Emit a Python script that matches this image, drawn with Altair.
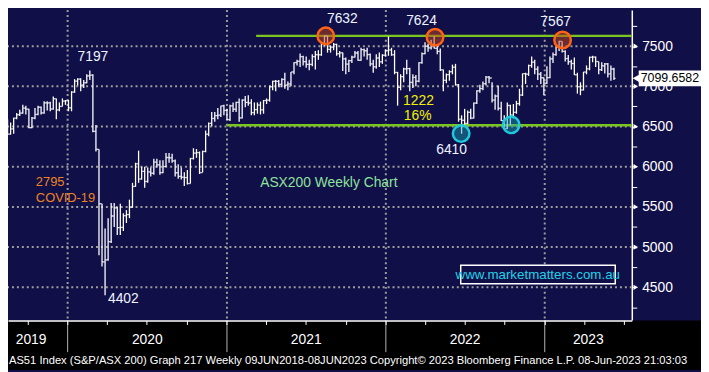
import altair as alt
import pandas as pd

# ---------------- data ----------------
first_date = "2019-08-16"
first_open = 6570
highs = [6590, 6550, 6610, 6670, 6710, 6770, 6760, 6720, 6620, 6730,
         6760, 6750, 6815, 6815, 6810, 6875, 6850, 6800, 6850, 6830,
         6830, 6940, 7090, 7100, 7100, 7080, 7150, 7197, 7150, 6520,
         6217, 5540, 5230, 5360, 5550, 5550, 5500, 5540, 5420, 5460,
         5590, 5800, 6050, 6200, 6000, 6000, 5990, 5990, 6100, 6100,
         6080, 6080, 6170, 6170, 6160, 6090, 6030, 5990, 5930, 5960,
         6110, 6230, 6220, 6190, 6200, 6450, 6550, 6680, 6680, 6730,
         6760, 6770, 6720, 6770, 6800, 6810, 6850, 6840, 6880, 6890,
         6840, 6800, 6800, 6810, 6830, 6850, 7010, 7070, 7080, 7080,
         7100, 7170, 7060, 7180, 7300, 7330, 7410, 7380, 7370, 7330,
         7400, 7440, 7450, 7550, 7632, 7630, 7510, 7540, 7530, 7440,
         7420, 7360, 7330, 7380, 7440, 7440, 7480, 7470, 7480, 7410,
         7330, 7400, 7420, 7400, 7460, 7620, 7480, 7450, 7180, 7150,
         7230, 7330, 7230, 7150, 7140, 7300, 7420, 7550, 7530, 7580,
         7624, 7520, 7470, 7210, 7160, 7200, 7270, 7280, 7030, 6640,
         6720, 6700, 6720, 6800, 6950, 7020, 7060, 7130, 7130, 7050,
         6900, 7010, 6810, 6640, 6800, 6770, 6780, 6820, 6970, 7160,
         7170, 7270, 7370, 7330, 7250, 7180, 7110, 7250, 7370, 7420,
         7500, 7567, 7560, 7450, 7390, 7330, 7360, 7170, 7050, 7180,
         7260, 7370, 7380, 7370, 7310, 7300, 7290, 7290, 7260, 7230]
lows = [6395, 6400, 6410, 6590, 6630, 6660, 6650, 6480, 6480, 6590,
        6640, 6650, 6660, 6700, 6690, 6710, 6590, 6690, 6750, 6770,
        6690, 6690, 6920, 7010, 6940, 6980, 7040, 7080, 6430, 6190,
        4900, 4760, 4402, 4830, 5050, 5250, 5150, 5150, 5200, 5300,
        5360, 5490, 5750, 5800, 5840, 5740, 5800, 5880, 5900, 5990,
        5900, 5920, 6000, 6050, 6050, 5880, 5850, 5840, 5760, 5780,
        5790, 6090, 6110, 5910, 5930, 6180, 6380, 6500, 6560, 6590,
        6620, 6640, 6580, 6570, 6680, 6680, 6560, 6600, 6740, 6760,
        6640, 6640, 6660, 6650, 6660, 6780, 6810, 6950, 6940, 6990,
        6990, 6970, 6950, 7000, 7150, 7260, 7240, 7260, 7230, 7200,
        7250, 7210, 7330, 7380, 7500, 7420, 7420, 7450, 7380, 7360,
        7190, 7150, 7180, 7290, 7360, 7320, 7320, 7370, 7330, 7250,
        7170, 7220, 7240, 7280, 7370, 7380, 7380, 7150, 6760, 6950,
        7050, 7150, 6940, 6980, 7000, 7050, 7280, 7400, 7430, 7460,
        7470, 7400, 7190, 6940, 7040, 7070, 7150, 7010, 6560, 6410,
        6520, 6530, 6590, 6600, 6780, 6920, 6950, 7010, 7040, 6800,
        6710, 6700, 6570, 6460, 6470, 6520, 6600, 6660, 6760, 6880,
        7030, 7130, 7230, 7150, 7080, 7030, 6890, 7030, 7100, 7290,
        7380, 7440, 7420, 7310, 7270, 7210, 7140, 6910, 6890, 6950,
        7150, 7200, 7300, 7240, 7150, 7190, 7160, 7110, 7070, 7080]
closes = [6405, 6471, 6604, 6647, 6667, 6730, 6716, 6486, 6606, 6651,
          6740, 6669, 6794, 6794, 6718, 6846, 6707, 6750, 6816, 6821,
          6733, 6929, 7065, 7090, 7017, 7045, 7130, 7139, 6441, 6217,
          5539, 4816, 4842, 5067, 5387, 5487, 5242, 5245, 5391, 5405,
          5497, 5755, 6036, 5847, 5942, 5817, 5935, 5919, 6058, 6024,
          5928, 6002, 6115, 6111, 6073, 5925, 5880, 5870, 5865, 5791,
          6102, 6170, 6176, 5927, 6190, 6405, 6539, 6601, 6635, 6642,
          6757, 6700, 6587, 6757, 6715, 6800, 6607, 6830, 6800, 6793,
          6673, 6711, 6767, 6708, 6824, 6828, 6995, 7063, 7062, 7025,
          7086, 7014, 7030, 7179, 7296, 7312, 7369, 7308, 7273, 7273,
          7370, 7394, 7393, 7538, 7628, 7460, 7488, 7522, 7406, 7417,
          7342, 7277, 7320, 7363, 7415, 7324, 7457, 7443, 7396, 7279,
          7243, 7353, 7305, 7387, 7444, 7453, 7393, 7173, 6988, 7121,
          7217, 7220, 7049, 7111, 7064, 7294, 7406, 7499, 7478, 7523,
          7473, 7435, 7205, 7075, 7145, 7182, 7238, 7020, 6591, 6578,
          6539, 6677, 6606, 6792, 6945, 6973, 7033, 7115, 7104, 6829,
          6879, 6726, 6574, 6474, 6762, 6643, 6677, 6785, 6892, 7158,
          7152, 7259, 7301, 7214, 7153, 7107, 7039, 7109, 7342, 7395,
          7493, 7559, 7434, 7346, 7307, 7284, 7144, 6995, 6955, 7178,
          7218, 7362, 7364, 7309, 7207, 7256, 7279, 7155, 7216, 7099.66]
opens = [first_open] + closes[:-1]

last_price = 7099.6582
support_level = 6515
resistance_level = 7628
y_major = [4500, 5000, 5500, 6000, 6500, 7000, 7500]
y_ticks = [4250, 4500, 4750, 5000, 5250, 5500, 5750, 6000, 6250, 6500,
           6750, 7000, 7250, 7500, 7750]
year_starts = ["2020-01-01", "2021-01-01", "2022-01-01", "2023-01-01"]
year_names = ["2019", "2020", "2021", "2022", "2023"]
year_mid = ["2019-10-09", "2020-07-02", "2021-07-02", "2022-07-02", "2023-04-11"]
quarter_ticks = ["2019-10-01", "2020-01-01", "2020-04-01", "2020-07-01", "2020-10-01",
                 "2021-01-01", "2021-04-01", "2021-07-01", "2021-10-01",
                 "2022-01-01", "2022-04-01", "2022-07-01", "2022-10-01",
                 "2023-01-01", "2023-04-01", "2023-07-01"]

peak_dates = ["2021-08-16", "2022-04-24", "2023-02-11"]
peak_vals = [7628, 7612, 7576]
trough_dates = ["2022-06-23", "2022-10-16"]
trough_vals = [6412, 6521]

ann_text = ["7197", "4402", "7632", "7624", "7567", "6410"]
ann_date = ["2020-02-28", "2020-05-08", "2021-09-23", "2022-03-24", "2023-01-26", "2022-06-01"]
ann_val = [7359, 4352, 7840, 7816, 7804, 6204]

footer_text = ("AS51 Index (S&P/ASX 200) Graph 217  Weekly 09JUN2018-08JUN2023  "
               "Copyright\u00a9 2023 Bloomberg Finance L.P.   08-Jun-2023 21:03:03")

# ---------------- frames ----------------
df = pd.DataFrame({
    "date": pd.date_range(first_date, periods=len(closes), freq="7D"),
    "open": opens, "high": highs, "low": lows, "close": closes,
})

NAVY = "#100f48"
W, H = 631, 314
XDOM = [alt.DateTime(year=2019, month=8, date=17), alt.DateTime(year=2023, month=7, date=20)]
YDOM = [4087, 7949]
SANS = "Liberation Sans, Arial, sans-serif"

X_AXIS = alt.Axis(values=[alt.DateTime(year=int(q[:4]), month=int(q[5:7]), date=1) for q in quarter_ticks],
                  labels=False, tickSize=4, tickColor="white", domainColor="white",
                  domainWidth=1.5, grid=False, title=None, ticks=True, zindex=1)
Y_AXIS = alt.Axis(orient="right", values=y_ticks, tickSize=5, tickColor="white",
                  domainColor="white", domainWidth=1.5, grid=False, title=None,
                  labelExpr="datum.value % 500 == 0 ? datum.value : ''",
                  labelOverlap=False, labelBound=False,
                  labelColor="white", labelFont=SANS, labelFontSize=14,
                  labelPadding=5, labelBaseline="middle", zindex=0)


def X(field):
    return alt.X(field, type="temporal", scale=alt.Scale(domain=XDOM), axis=X_AXIS)


def Y(field):
    return alt.Y(field, type="quantitative", scale=alt.Scale(domain=YDOM), axis=Y_AXIS)


base = alt.Chart(df)

# black strip under the plot (the chart background itself is navy)
bottom_strip = alt.Chart(pd.DataFrame({"a": [0]})).mark_rect(color="black").encode(
    x=alt.value(0), x2=alt.value(W + 70), y=alt.value(H), y2=alt.value(H + 50))

hgrid = alt.Chart(pd.DataFrame({"v": y_major})).mark_rule(
    color="#9c9c9c", strokeWidth=2, strokeDash=[2, 3]).encode(y=Y("v:Q"))
vgrid = alt.Chart(pd.DataFrame({"d": pd.to_datetime(year_starts)})).mark_rule(
    color="#9c9c9c", strokeWidth=2, strokeDash=[2, 3]).encode(x=X("d:T"))

green = alt.Chart(pd.DataFrame({
    "d1": pd.to_datetime(["2021-03-09", "2021-01-01"]),
    "d2": pd.to_datetime(["2023-07-20", "2023-07-20"]),
    "v": [resistance_level, support_level]})).mark_rule(
    color="#7cc41f", strokeWidth=2.5).encode(x=X("d1:T"), x2="d2:T", y=Y("v:Q"))

hl = base.mark_rule(color="white", strokeWidth=1.3).encode(
    x=X("date:T"), y=Y("low:Q"), y2="high:Q")
op = base.mark_tick(color="white", orient="horizontal", size=1.8, thickness=1.3, xOffset=-0.9).encode(
    x=X("date:T"), y=Y("open:Q"))
cl = base.mark_tick(color="white", orient="horizontal", size=1.8, thickness=1.3, xOffset=0.9).encode(
    x=X("date:T"), y=Y("close:Q"))

peaks = alt.Chart(pd.DataFrame({"d": pd.to_datetime(peak_dates), "v": peak_vals})).mark_point(
    shape="circle", size=280, filled=False, fill="#c8451a", fillOpacity=0.5,
    stroke="#ff6414", strokeWidth=2.5, opacity=1).encode(x=X("d:T"), y=Y("v:Q"))
troughs = alt.Chart(pd.DataFrame({"d": pd.to_datetime(trough_dates), "v": trough_vals})).mark_point(
    shape="circle", size=280, filled=False, fill="#1aa6b8", fillOpacity=0.45,
    stroke="#1ccbdc", strokeWidth=2.5, opacity=1).encode(x=X("d:T"), y=Y("v:Q"))

ann = alt.Chart(pd.DataFrame({"t": ann_text, "d": pd.to_datetime(ann_date), "v": ann_val})).mark_text(
    color="#eef4ff", font=SANS, fontSize=14, baseline="middle", align="center").encode(
    x=X("d:T"), y=Y("v:Q"), text="t:N")

covid = alt.Chart(pd.DataFrame({"t": ["2795", "COVID-19"],
                                "d": pd.to_datetime(["2019-10-20", "2019-10-20"]),
                                "v": [5807, 5615]})).mark_text(
    color="#ee8420", font=SANS, fontSize=13, baseline="middle", align="left").encode(
    x=X("d:T"), y=Y("v:Q"), text="t:N")

fall = alt.Chart(pd.DataFrame({"t": ["1222", "16%"],
                               "d": pd.to_datetime(["2022-03-17", "2022-03-15"]),
                               "v": [6818, 6625]})).mark_text(
    color="#f0f000", font=SANS, fontSize=14, baseline="middle", align="center").encode(
    x=X("d:T"), y=Y("v:Q"), text="t:N")

title_txt = alt.Chart(pd.DataFrame({"t": ["ASX200 Weekly Chart"],
                                    "d": pd.to_datetime(["2021-08-23"]), "v": [5795]})).mark_text(
    color="#8ee29a", font=SANS, fontSize=14, baseline="middle", align="center").encode(
    x=X("d:T"), y=Y("v:Q"), text="t:N")

box = alt.Chart(pd.DataFrame({"d1": pd.to_datetime(["2022-06-22"]), "d2": pd.to_datetime(["2023-06-12"]),
                              "v1": [4773], "v2": [4544]})).mark_rect(
    fill=NAVY, stroke="white", strokeWidth=1.5).encode(x=X("d1:T"), x2="d2:T", y=Y("v1:Q"), y2="v2:Q")
url = alt.Chart(pd.DataFrame({"t": ["www.marketmatters.com.au"],
                              "d": pd.to_datetime(["2022-12-16"]), "v": [4658]})).mark_text(
    color="#22d2e6", font=SANS, fontSize=13.5, baseline="middle", align="center").encode(
    x=X("d:T"), y=Y("v:Q"), text="t:N")

arrows = alt.Chart(pd.DataFrame({"v": y_major})).mark_point(
    shape="triangle-right", filled=True, color="white", size=28, opacity=1).encode(
    x=alt.value(W + 4), y=Y("v:Q"))

tag_df = pd.DataFrame({"v": [last_price], "t": [f"{last_price:.4f}"]})
tag_box = alt.Chart(tag_df).mark_rect(color="white", yOffset=-8, y2Offset=8).encode(
    x=alt.value(W + 7), x2=alt.value(W + 70), y=Y("v:Q"), y2="v:Q")
tag_arrow = alt.Chart(tag_df).mark_point(shape="triangle-left", filled=True, color="white",
                                         size=90, opacity=1).encode(x=alt.value(W + 5), y=Y("v:Q"))
tag_text = alt.Chart(tag_df).mark_text(color="black", font=SANS, fontSize=12.5, align="left",
                                       baseline="middle").encode(
    x=alt.value(W + 9), y=Y("v:Q"), text="t:N")

sep = alt.Chart(pd.DataFrame({"d": pd.to_datetime(year_starts)})).mark_rule(
    color="#b4b4b4", strokeWidth=1).encode(x=X("d:T"), y=alt.value(H), y2=alt.value(H + 32))
years = alt.Chart(pd.DataFrame({"t": year_names, "d": pd.to_datetime(year_mid)})).mark_text(
    color="white", font=SANS, fontSize=14, baseline="middle", align="center").encode(
    x=X("d:T"), y=alt.value(H + 20), text="t:N")
footer = alt.Chart(pd.DataFrame({"t": [footer_text]})).mark_text(
    color="white", font=SANS, fontSize=11.3, baseline="middle", align="left").encode(
    x=alt.value(1), y=alt.value(H + 41), text="t:N")

chart = alt.layer(
    bottom_strip, hgrid, vgrid, green, hl, op, cl, peaks, troughs,
    ann, covid, fall, title_txt, box, url, arrows, tag_box, tag_arrow, tag_text,
    sep, years, footer
).properties(
    width=W, height=H,
    padding={"left": 0, "top": 0, "right": 70, "bottom": 50},
    autosize=alt.AutoSizeParams(type="none"),
    background=NAVY,
).configure_view(fill=NAVY, stroke=None)

chart.save("out.html", embed_options={"renderer": "svg", "actions": False})
